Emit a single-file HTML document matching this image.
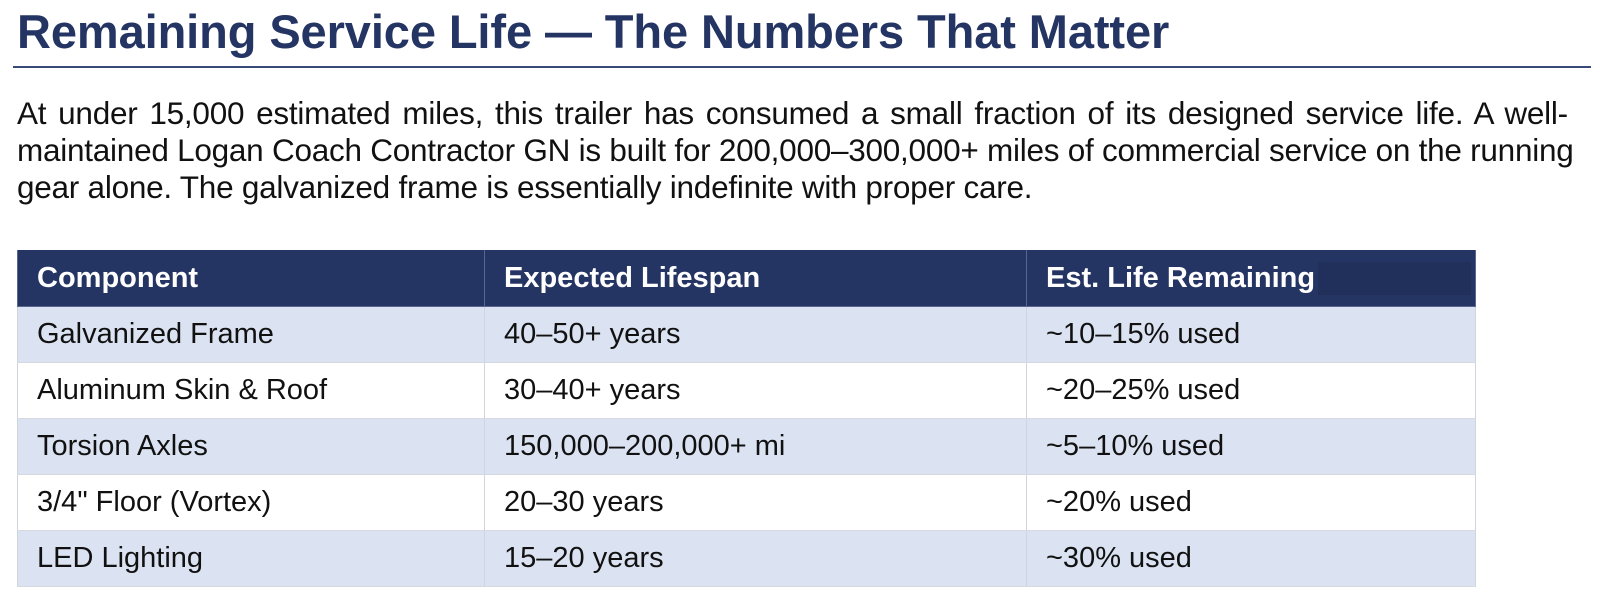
<!DOCTYPE html>
<html><head><meta charset="utf-8"><style>
body{margin:0;width:1600px;height:612px;background:#fff;font-family:"Liberation Sans",Arial,sans-serif;position:relative;overflow:hidden}
h1{position:absolute;left:17px;top:4px;margin:0;font-size:47px;font-weight:bold;color:#243463;white-space:nowrap;letter-spacing:-0.1px}
.rule{position:absolute;left:13px;top:66px;width:1578px;height:2px;background:#3a4a78}
p{position:absolute;left:17px;top:95px;margin:0;width:1590px;font-size:31.5px;line-height:37px;color:#111;letter-spacing:-0.25px;white-space:nowrap}
.l1{word-spacing:3.4px}
table{position:absolute;left:17px;top:250px;border-collapse:collapse;font-size:29px;color:#111}
td,th{padding:0 0 0 19px;text-align:left;height:55px;border:1px solid #d0d4dc;border-top:none;border-bottom:1px solid #d6d9e0;white-space:nowrap}
th{background:#243463;color:#fff;height:56px;border-color:#5a6690;font-weight:bold}
tr.a td{background:#dbe2f1}
.blk{position:absolute;left:1318px;top:262px;width:153px;height:33px;background:#20305a}
</style></head><body>
<h1>Remaining Service Life — The Numbers That Matter</h1>
<div class="rule"></div>
<p><span class="l1">At under 15,000 estimated miles, this trailer has consumed a small fraction of its designed service life. A well-</span><br>maintained Logan Coach Contractor GN is built for 200,000–300,000+ miles of commercial service on the running<br>gear alone. The galvanized frame is essentially indefinite with proper care.</p>
<table>
<tr><th style="width:447px">Component</th><th style="width:522px">Expected Lifespan</th><th style="width:429px">Est. Life Remaining</th></tr>
<tr class="a"><td>Galvanized Frame</td><td>40–50+ years</td><td>~10–15% used</td></tr>
<tr><td>Aluminum Skin &amp; Roof</td><td>30–40+ years</td><td>~20–25% used</td></tr>
<tr class="a"><td>Torsion Axles</td><td>150,000–200,000+ mi</td><td>~5–10% used</td></tr>
<tr><td>3/4" Floor (Vortex)</td><td>20–30 years</td><td>~20% used</td></tr>
<tr class="a"><td>LED Lighting</td><td>15–20 years</td><td>~30% used</td></tr>
</table>
<div class="blk"></div>
</body></html>
